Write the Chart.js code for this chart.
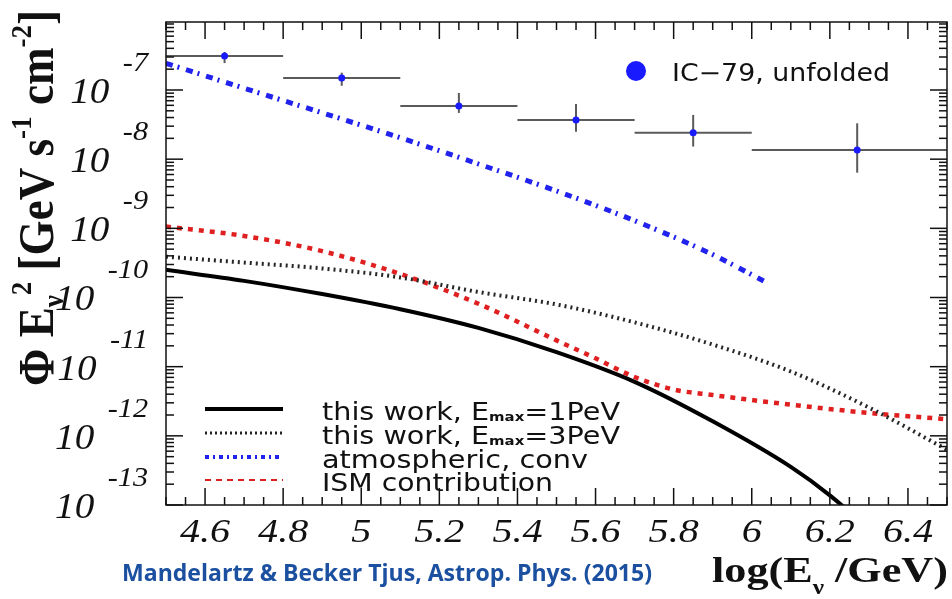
<!DOCTYPE html>
<html>
<head>
<meta charset="utf-8">
<script src="https://cdn.jsdelivr.net/npm/chart.js@4.4.1/dist/chart.umd.min.js"></script>
<style>
  body { margin: 0; background: #fff; }
</style>
</head>
<body>
<canvas id="flux" width="952" height="599"></canvas>
<script>
// axis ticks
var xTickValues = [4.6, 4.8, 5, 5.2, 5.4, 5.6, 5.8, 6, 6.2, 6.4];
var xTickLabels = ["4.6", "4.8", "5", "5.2", "5.4", "5.6", "5.8", "6", "6.2", "6.4"];
var yDecades = [-13, -12, -11, -10, -9, -8, -7];

// IC-79 unfolded spectrum (log10 E, E^2 flux, bin edges, error band)
var icLogE = [4.65, 4.95, 5.25, 5.55, 5.85, 6.27];
var icBinLow = [4.5, 4.8, 5.1, 5.4, 5.7, 6.0];
var icBinHigh = [4.8, 5.1, 5.4, 5.7, 6.0, 6.5];
var icFlux = [3.10e-7, 1.49e-7, 5.87e-8, 3.68e-8, 2.40e-8, 1.36e-8];
var icFluxUp = [3.55e-7, 1.78e-7, 9.06e-8, 6.28e-8, 4.36e-8, 3.30e-8];
var icFluxDown = [2.45e-7, 1.15e-7, 4.66e-8, 2.49e-8, 1.52e-8, 6.38e-9];

// this work, Emax = 1 PeV
var work1LogE = [4.5, 4.7, 4.9, 5.1, 5.3, 5.5, 5.7, 5.9, 6.1, 6.2, 6.3];
var work1Flux = [2.51e-10, 1.74e-10, 1.12e-10, 6.76e-11, 3.63e-11, 1.62e-11, 6.03e-12, 1.62e-12, 3.55e-13, 1.38e-13, 4.47e-14];

// this work, Emax = 3 PeV
var work3LogE = [4.5, 4.7, 4.9, 5.1, 5.3, 5.5, 5.7, 5.9, 6.1, 6.3, 6.5];
var work3Flux = [3.89e-10, 3.20e-10, 2.63e-10, 1.95e-10, 1.20e-10, 7.94e-11, 4.37e-11, 2.09e-11, 8.51e-12, 2.57e-12, 6.31e-13];

// conventional atmospheric
var atmLogE = [4.5, 4.7, 4.9, 5.1, 5.3, 5.5, 5.7, 5.9, 6.04];
var atmFlux = [2.43e-7, 1.06e-7, 4.68e-8, 2.04e-8, 8.51e-9, 3.47e-9, 1.29e-9, 4.17e-10, 1.62e-10];

// ISM contribution
var ismLogE = [4.5, 4.7, 4.9, 5.1, 5.3, 5.5, 5.6, 5.7, 5.8, 5.9, 6.1, 6.3, 6.5];
var ismFlux = [1.06e-9, 7.76e-10, 4.68e-10, 2.19e-10, 8.13e-11, 2.40e-11, 1.32e-11, 7.08e-12, 4.68e-12, 3.89e-12, 2.82e-12, 2.14e-12, 1.74e-12];

var SERIF = '"Liberation Serif", "DejaVu Serif", serif';
var SANS = '"DejaVu Sans", sans-serif';

function pts(xs, ys) {
  return xs.map(function (x, i) { return { x: x, y: ys[i] }; });
}

// draw a row of text pieces (sub/superscripts), stretched to a given length
function drawRuns(ctx, runs, x, y, width, angle) {
  ctx.save();
  var natural = 0;
  runs.forEach(function (r) { ctx.font = r[1]; natural += ctx.measureText(r[0]).width; });
  ctx.translate(x, y);
  if (angle) ctx.rotate(angle);
  ctx.scale(width / natural, 1);
  ctx.textAlign = 'left';
  ctx.textBaseline = 'alphabetic';
  var cx = 0;
  runs.forEach(function (r) {
    ctx.font = r[1];
    ctx.fillText(r[0], cx, r[2] || 0);
    cx += ctx.measureText(r[0]).width;
  });
  ctx.restore();
}

function seg(ctx, x1, y1, x2, y2) {
  ctx.beginPath();
  ctx.moveTo(x1, y1);
  ctx.lineTo(x2, y2);
  ctx.stroke();
}

var errorBars = {
  id: 'errorBars',
  beforeDatasetsDraw: function (chart) {
    var ctx = chart.ctx, xs = chart.scales.x, ys = chart.scales.y, a = chart.chartArea;
    ctx.save();
    ctx.beginPath();
    ctx.rect(a.left, a.top, a.right - a.left, a.bottom - a.top);
    ctx.clip();
    ctx.strokeStyle = '#5a5a5a';
    ctx.lineWidth = 2;
    for (var i = 0; i < icLogE.length; i++) {
      var py = ys.getPixelForValue(icFlux[i]);
      var px = xs.getPixelForValue(icLogE[i]);
      seg(ctx, xs.getPixelForValue(icBinLow[i]), py, xs.getPixelForValue(icBinHigh[i]), py);
      seg(ctx, px, ys.getPixelForValue(icFluxUp[i]), px, ys.getPixelForValue(icFluxDown[i]));
    }
    ctx.restore();
  }
};

var rootFrame = {
  id: 'rootFrame',
  afterDraw: function (chart) {
    var ctx = chart.ctx, xs = chart.scales.x, ys = chart.scales.y, a = chart.chartArea;
    ctx.save();
    ctx.strokeStyle = '#111';
    ctx.lineWidth = 1.5;
    ctx.strokeRect(a.left, a.top, a.right - a.left, a.bottom - a.top);

    // x ticks, inward on bottom and top
    for (var k = 0; k <= 40; k++) {
      var px = xs.getPixelForValue(4.5 + k * 0.05);
      var len = (k % 4 === 2) ? 17 : 8;
      seg(ctx, px, a.bottom, px, a.bottom - len);
      seg(ctx, px, a.top, px, a.top + len);
    }
    // y ticks, inward on left and right
    yDecades.forEach(function (d) {
      for (var m = 1; m <= 9; m++) {
        var v = m * Math.pow(10, d);
        if (v > ys.max) break;
        var py = ys.getPixelForValue(v);
        var l = (m === 1) ? 17 : 8;
        seg(ctx, a.left, py, a.left + l, py);
        seg(ctx, a.right, py, a.right - l, py);
      }
    });

    ctx.fillStyle = '#111';
    // x tick labels
    xTickValues.forEach(function (v, i) {
      ctx.save();
      ctx.translate(xs.getPixelForValue(v), 542);
      ctx.scale(1.18, 1);
      ctx.font = 'italic 34px ' + SERIF;
      ctx.textAlign = 'center';
      ctx.fillText(xTickLabels[i], 0, 0);
      ctx.restore();
    });
    // y tick labels 10^n
    yDecades.forEach(function (d) {
      var py = ys.getPixelForValue(Math.pow(10, d));
      ctx.save();
      ctx.translate(148, py - 19);
      ctx.scale(1.12, 1);
      ctx.font = 'italic 27px ' + SERIF;
      ctx.textAlign = 'right';
      var exp = String(d);
      ctx.fillText(exp, 0, 0);
      var ew = ctx.measureText(exp).width;
      ctx.font = 'italic 35px ' + SERIF;
      ctx.fillText('10', -ew - 12, 32);
      ctx.restore();
    });

    // axis titles
    drawRuns(ctx, [
      ['\u03A6 E', 'bold 50px ' + SERIF, 0],
      ['\u03BD', 'bold 30px ' + SERIF, 10],
      ['2', 'bold 30px ' + SERIF, -22],
      [' [GeV s', 'bold 50px ' + SERIF, 0],
      ['-1', 'bold 30px ' + SERIF, -22],
      [' cm', 'bold 50px ' + SERIF, 0],
      ['-2', 'bold 30px ' + SERIF, -22],
      [']', 'bold 50px ' + SERIF, 0]
    ], 53, 386, 376, -Math.PI / 2);
    drawRuns(ctx, [
      ['log(E', 'bold 35px ' + SERIF, 0],
      ['\u03BD', 'bold 20px ' + SERIF, 12],
      [' /GeV)', 'bold 35px ' + SERIF, 0]
    ], 712, 582, 236, 0);

    // data legend
    ctx.fillStyle = '#1a1aff';
    ctx.beginPath();
    ctx.arc(636, 71, 10, 0, Math.PI * 2);
    ctx.fill();
    ctx.fillStyle = '#111';
    drawRuns(ctx, [['IC\u221279, unfolded', '24px ' + SANS, 0]], 672, 81, 218, 0);

    // model legend
    var rows = [
      { y: 409, color: '#000', width: 4, dash: [], text: [['this work, E', '25px ' + SANS, 0], ['max', 'bold 13px ' + SANS, 1], ['=1PeV', '25px ' + SANS, 0]], w: 298 },
      { y: 433, color: '#222', width: 3, dash: [2, 3], text: [['this work, E', '25px ' + SANS, 0], ['max', 'bold 13px ' + SANS, 1], ['=3PeV', '25px ' + SANS, 0]], w: 298 },
      { y: 457, color: '#2222ee', width: 4, dash: [4, 4, 2, 4], text: [['atmospheric, conv', '25px ' + SANS, 0]], w: 266 },
      { y: 480, color: '#e02020', width: 2, dash: [6, 5], text: [['ISM contribution', '25px ' + SANS, 0]], w: 231 }
    ];
    rows.forEach(function (r) {
      ctx.save();
      ctx.strokeStyle = r.color;
      ctx.lineWidth = r.width;
      ctx.setLineDash(r.dash);
      seg(ctx, 205, r.y, 283, r.y);
      ctx.restore();
      ctx.fillStyle = '#111';
      drawRuns(ctx, r.text, 322, r.y + 11, r.w, 0);
    });

    // reference note
    ctx.fillStyle = '#1b4fa0';
    drawRuns(ctx, [['Mandelartz & Becker Tjus, Astrop. Phys. (2015)', 'bold 23px "Open Sans", sans-serif', 0]], 122, 581, 530, 0);
    ctx.restore();
  }
};

new Chart(document.getElementById('flux'), {
  type: 'scatter',
  data: {
    datasets: [{
      label: 'IC-79, unfolded',
      data: pts(icLogE, icFlux),
      backgroundColor: '#1a1aff',
      borderColor: '#1a1aff',
      pointRadius: 3.5,
      pointBorderWidth: 0
    }, {
      label: 'this work, Emax=1PeV',
      data: pts(work1LogE, work1Flux),
      showLine: true,
      borderColor: '#000',
      borderWidth: 4,
      pointRadius: 0,
      cubicInterpolationMode: 'monotone'
    }, {
      label: 'this work, Emax=3PeV',
      data: pts(work3LogE, work3Flux),
      showLine: true,
      borderColor: '#262626',
      borderWidth: 4,
      borderDash: [2, 4],
      pointRadius: 0,
      cubicInterpolationMode: 'monotone'
    }, {
      label: 'atmospheric, conv',
      data: pts(atmLogE, atmFlux),
      showLine: true,
      borderColor: '#2222ee',
      borderWidth: 5,
      borderDash: [7, 5, 2, 7],
      pointRadius: 0,
      cubicInterpolationMode: 'monotone'
    }, {
      label: 'ISM contribution',
      data: pts(ismLogE, ismFlux),
      showLine: true,
      borderColor: '#e02020',
      borderWidth: 4.5,
      borderDash: [5, 6],
      pointRadius: 0,
      cubicInterpolationMode: 'monotone'
    }]
  },
  options: {
    responsive: false,
    animation: false,
    layout: { padding: { left: 166, top: 22, right: 5, bottom: 94 } },
    plugins: {
      legend: { display: false },
      tooltip: { enabled: false }
    },
    scales: {
      x: { type: 'linear', display: false, min: 4.5, max: 6.5 },
      y: { type: 'logarithmic', display: false, min: 1e-13, max: Math.pow(10, -6.017) }
    }
  },
  plugins: [errorBars, rootFrame]
});
</script>
</body>
</html>
